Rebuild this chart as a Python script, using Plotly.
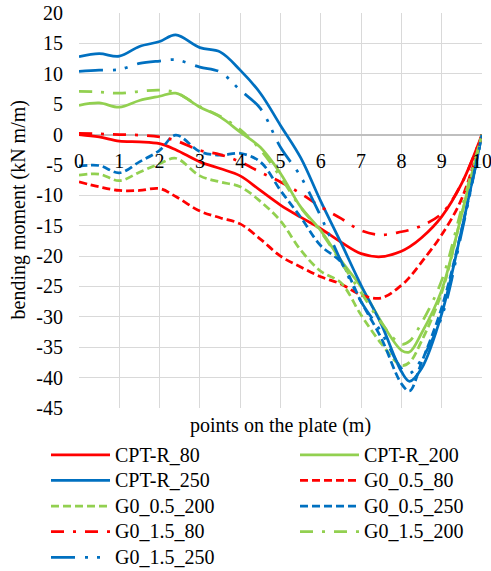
import plotly.graph_objects as go

# ---- data ----
x_pts = [0, 0.5, 1, 1.5, 2, 2.4, 3, 3.5, 4, 4.5, 5, 5.5, 6, 6.5, 7, 7.5, 8, 8.2, 8.5, 9, 9.5, 10]

cpt_r_80 = [0.0, -0.4, -1.1, -1.2, -1.5, -2.5, -4.5, -5.6, -6.8, -9.2, -11.6, -13.6, -15.5, -17.7, -19.6, -20.1, -19.2, -18.5, -17.0, -13.5, -8.0, 0.0]
cpt_r_200 = [4.8, 5.2, 4.5, 5.6, 6.3, 6.8, 4.5, 2.9, 0.4, -2.1, -6.4, -11.9, -15.8, -20.7, -25.1, -30.8, -35.5, -35.8, -32.7, -25.6, -13.0, 0.0]
cpt_r_250 = [12.8, 13.3, 12.9, 14.5, 15.3, 16.4, 14.3, 13.6, 10.6, 6.8, 1.5, -3.8, -11.0, -17.8, -24.8, -31.2, -39.0, -40.6, -38.5, -29.5, -15.5, 0.0]
g0_05_80 = [-7.8, -8.6, -9.2, -9.2, -8.9, -10.2, -12.6, -13.7, -14.7, -17.2, -20.0, -21.8, -23.4, -24.6, -26.4, -26.9, -24.8, -23.5, -21.0, -16.5, -10.5, 0.0]
g0_05_200 = [-6.7, -6.5, -7.6, -6.2, -4.8, -3.9, -6.8, -7.8, -8.6, -11.0, -14.2, -19.0, -22.5, -24.4, -29.7, -34.4, -38.0, -37.5, -34.0, -26.0, -13.0, 0.0]
g0_05_250 = [-5.2, -5.1, -6.3, -4.5, -2.6, -0.1, -2.8, -3.4, -3.1, -4.5, -9.2, -13.6, -18.3, -21.0, -27.5, -33.5, -41.0, -42.2, -37.5, -28.5, -15.5, 0.0]
g0_15_80 = [0.2, 0.1, 0.0, -0.1, -0.4, -1.0, -2.6, -3.3, -4.5, -6.2, -7.8, -9.7, -11.9, -13.8, -15.8, -16.5, -16.0, -15.7, -15.0, -13.0, -8.0, 0.0]
g0_15_200 = [7.1, 7.0, 6.8, 7.1, 7.3, 6.9, 4.6, 3.0, 0.8, -2.5, -7.0, -12.0, -16.0, -21.0, -26.0, -31.0, -34.5, -34.0, -31.0, -24.0, -12.0, 0.0]
g0_15_250 = [10.4, 10.6, 10.7, 11.7, 12.1, 12.3, 11.1, 10.3, 7.3, 4.3, -2.1, -6.9, -13.5, -20.8, -27.5, -32.5, -38.5, -39.3, -37.0, -30.0, -16.0, 0.0]

series_names = ["CPT-R_80", "CPT-R_200", "CPT-R_250",
                "G0_0.5_80", "G0_0.5_200", "G0_0.5_250",
                "G0_1.5_80", "G0_1.5_200", "G0_1.5_250"]
series_values = [cpt_r_80, cpt_r_200, cpt_r_250,
                 g0_05_80, g0_05_200, g0_05_250,
                 g0_15_80, g0_15_200, g0_15_250]

y_ticks = list(range(-45, 25, 5))
x_ticks = list(range(0, 11))

# ---- styles ----
RED, GREEN, BLUE = "#FF0000", "#92D050", "#0070C0"
colors = [RED, GREEN, BLUE] * 3
SOLID = "solid"
DASH = "8px,4px"
DASHDOT = "13px,9px,3px,9px"
DASHDOTDOT = "24px,10px,3px,9px,3px,10px"
dashes = [SOLID] * 3 + [DASH] * 3 + [DASHDOT, DASHDOT, DASHDOTDOT]
# legend column assignment (Excel fills row by row, two columns)
legend_ids = ["legend", "legend2", "legend", "legend2", "legend", "legend2", "legend", "legend2", "legend"]

FONT = "Liberation Serif"
FS = 20
LEG_FS = 17.4  # sets legend row pitch; label text itself is drawn at FS

fig = go.Figure()
for name, vals, col, dsh, lg in zip(series_names, series_values, colors, dashes, legend_ids):
    fig.add_trace(go.Scatter(
        x=x_pts, y=vals, mode="lines",
        name='<span style="font-size:%dpx">%s</span>' % (FS, name),
        line=dict(color=col, width=2.75, dash=dsh, shape="spline", smoothing=1.0),
        legend=lg,
    ))

W, H = 491, 571
L, R, T, B = 79, 9, 13, 163
pw, ph = W - L - R, H - T - B


def px_x(p):
    return (p - L) / pw


def px_y(p):
    return (H - B - p) / ph


grid = "#d9d9d9"
legend_common = dict(
    font=dict(family=FONT, size=LEG_FS, color="#000000"),
    bgcolor="rgba(0,0,0,0)", borderwidth=0,
    itemwidth=59, orientation="v",
    xanchor="left", yanchor="top", tracegroupgap=0,
)

fig.update_layout(
    width=W, height=H,
    margin=dict(l=L, r=R, t=T, b=B, autoexpand=False),
    paper_bgcolor="white", plot_bgcolor="white",
    font=dict(family=FONT, size=FS, color="#000000"),
    showlegend=True,
    legend=dict(x=px_x(46), y=px_y(437), **legend_common),
    legend2=dict(x=px_x(295), y=px_y(437), **legend_common),
    xaxis=dict(
        range=[0, 10], tickvals=x_ticks, ticktext=[str(v) for v in x_ticks],
        showgrid=True, gridcolor=grid, gridwidth=1.3,
        zeroline=False, showline=False, ticks="",
        anchor="free", position=45 / 65, ticklabelstandoff=12,
        ticklabeloverflow="allow",
        tickfont=dict(family=FONT, size=FS, color="#000000"),
    ),
    yaxis=dict(
        range=[-45, 20], tickvals=y_ticks, ticktext=[str(v) for v in y_ticks],
        showgrid=True, gridcolor=grid, gridwidth=1.3,
        zeroline=True, zerolinecolor="#bfbfbf", zerolinewidth=1.5,
        showline=False, ticks="", ticklabelstandoff=15,
        tickfont=dict(family=FONT, size=FS, color="#000000"),
    ),
    annotations=[
        dict(text="points on the plate (m)", xref="paper", yref="paper",
             x=0.5, y=px_y(425), xanchor="center", yanchor="middle",
             showarrow=False, font=dict(family=FONT, size=FS, color="#000000")),
        dict(text="bending moment (kN m/m)", xref="paper", yref="paper",
             x=px_x(18), y=0.5, xanchor="center", yanchor="middle", textangle=-90,
             showarrow=False, font=dict(family=FONT, size=FS, color="#000000")),
    ],
)

fig.write_html("out.html")
